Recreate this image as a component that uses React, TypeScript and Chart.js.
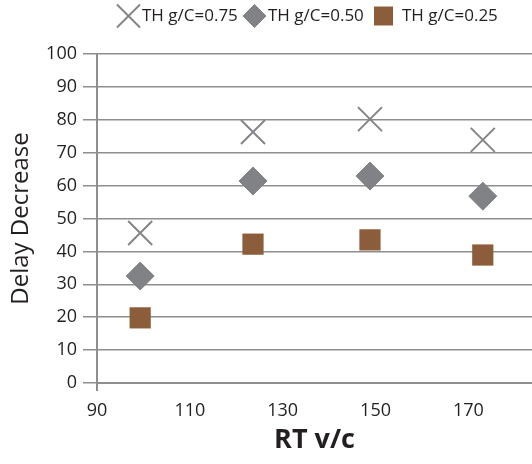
import React, { useEffect, useRef } from 'react';
import { Chart, registerables } from 'chart.js';
import { drawPoint } from 'chart.js/helpers';

Chart.register(...registerables);

// ---- data ----
const seriesLabels = ['TH g/C=0.75', 'TH g/C=0.50', 'TH g/C=0.25'];
const rtVc = [99.3, 123.6, 148.8, 173.1];
const delay075 = [45.6, 76.3, 80.2, 73.9];
const delay050 = [32.5, 61.4, 62.9, 56.8];
const delay025 = [19.8, 42.2, 43.5, 38.9];
const xTickValues = [90, 110, 130, 150, 170];
const yTickValues = [0, 10, 20, 30, 40, 50, 60, 70, 80, 90, 100];

const GRID = '#8e8e90';
const TEXT = '#231f20';
const FONT = '"Open Sans", "DejaVu Sans", sans-serif';

const legendLayout = [
  { markerX: 128.5, radius: 16.3, textX: 142 },
  { markerX: 254.5, radius: 11.5, textX: 268 },
  { markerX: 383.5, radius: 13.4, textX: 402 },
];
const legendY = 16;

const customLegend = {
  id: 'customLegend',
  afterDraw(chart: any) {
    const ctx = chart.ctx;
    chart.data.datasets.forEach((ds: any, i: number) => {
      const l = legendLayout[i];
      ctx.save();
      ctx.fillStyle = ds.pointBackgroundColor;
      ctx.strokeStyle = ds.pointBorderColor;
      ctx.lineWidth = ds.pointBorderWidth;
      drawPoint(
        ctx,
        { pointStyle: ds.pointStyle, radius: l.radius, rotation: 0, borderWidth: ds.pointBorderWidth },
        l.markerX,
        legendY
      );
      ctx.fillStyle = TEXT;
      ctx.font = `17px ${FONT}`;
      ctx.textBaseline = 'middle';
      ctx.textAlign = 'left';
      ctx.fillText(ds.label, l.textX, legendY);
      ctx.restore();
    });
  },
};

const toPoints = (ys: number[]) => ys.map((y, i) => ({ x: rtVc[i], y }));

export default function App() {
  const canvasRef = useRef<HTMLCanvasElement | null>(null);

  useEffect(() => {
    const canvas = canvasRef.current;
    if (!canvas) return;
    const chart = new Chart(canvas, {
      type: 'scatter',
      data: {
        datasets: [
          {
            label: seriesLabels[0],
            data: toPoints(delay075),
            pointStyle: 'crossRot',
            pointRadius: 17,
            pointHoverRadius: 17,
            pointBorderColor: '#858589',
            pointBackgroundColor: '#858589',
            pointBorderWidth: 2,
          },
          {
            label: seriesLabels[1],
            data: toPoints(delay050),
            pointStyle: 'rectRot',
            pointRadius: 14,
            pointHoverRadius: 14,
            pointBorderColor: '#808285',
            pointBackgroundColor: '#808285',
            pointBorderWidth: 1,
          },
          {
            label: seriesLabels[2],
            data: toPoints(delay025),
            pointStyle: 'rect',
            pointRadius: 15,
            pointHoverRadius: 15,
            pointBorderColor: '#8b5d3b',
            pointBackgroundColor: '#8b5d3b',
            pointBorderWidth: 0,
          },
        ] as any,
      },
      options: {
        animation: false,
        responsive: false,
        layout: { autoPadding: false, padding: { top: 54, right: 0, bottom: 0, left: 0 } },
        plugins: {
          legend: { display: false },
          tooltip: { enabled: false },
        },
        scales: {
          x: {
            type: 'linear',
            min: 90,
            max: 183.7,
            afterBuildTicks: (axis: any) => {
              axis.ticks = xTickValues.map((v) => ({ value: v }));
            },
            afterFit: (axis: any) => {
              axis.height = 81;
              axis.paddingLeft = 0;
              axis.paddingRight = 0;
            },
            border: { display: true, color: GRID, width: 2 },
            grid: {
              drawOnChartArea: false,
              drawTicks: true,
              tickLength: 8,
              lineWidth: 2,
              color: (c: any) => (c.tick && c.tick.value === 90 ? GRID : 'rgba(0,0,0,0)'),
            },
            ticks: {
              color: TEXT,
              font: { family: FONT, size: 18 },
              padding: 9,
              maxRotation: 0,
            },
            title: {
              display: true,
              text: 'RT v/c',
              color: TEXT,
              font: { family: FONT, size: 27, weight: 'bold' },
              padding: { top: 0, bottom: 7 },
            },
          },
          y: {
            type: 'linear',
            min: 0,
            max: 100,
            afterBuildTicks: (axis: any) => {
              axis.ticks = yTickValues.map((v) => ({ value: v }));
            },
            afterFit: (axis: any) => {
              axis.width = 97;
              axis.paddingTop = 0;
              axis.paddingBottom = 0;
            },
            border: { display: true, color: GRID, width: 2 },
            grid: {
              color: GRID,
              lineWidth: 1.5,
              drawTicks: true,
              tickLength: 14,
            },
            ticks: {
              color: TEXT,
              font: { family: FONT, size: 18 },
              padding: 6,
            },
            title: {
              display: true,
              text: 'Delay Decrease',
              color: TEXT,
              font: { family: FONT, size: 24 },
              padding: { top: 7, bottom: 0 },
            },
          },
        },
      },
      plugins: [customLegend],
    });
    return () => chart.destroy();
  }, []);

  return (
    <div style={{ position: 'fixed', left: 0, top: 0, width: 532, height: 464, background: '#fff' }}>
      <canvas ref={canvasRef} width={532} height={464} style={{ display: 'block', width: 532, height: 464 }} />
    </div>
  );
}
